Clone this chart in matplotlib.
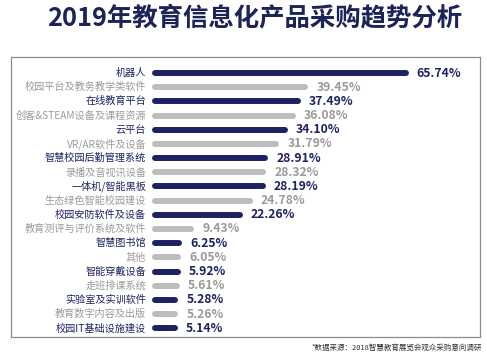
import numpy as np
import matplotlib.pyplot as plt

plt.rcParams['font.family'] = ['Noto Sans CJK SC', 'DejaVu Sans']

categories = ["机器人", "校园平台及教务教学类软件", "在线教育平台", "创客&STEAM设备及课程资源",
              "云平台", "VR/AR软件及设备", "智慧校园后勤管理系统", "录播及音视讯设备",
              "一体机/智能黑板", "生态绿色智能校园建设", "校园安防软件及设备",
              "教育测评与评价系统及软件", "智慧图书馆", "其他", "智能穿戴设备",
              "走班排课系统", "实验室及实训软件", "教育数字内容及出版", "校园IT基础设施建设"]
values = [65.74, 39.45, 37.49, 36.08, 34.10, 31.79, 28.91, 28.32, 28.19, 24.78,
          22.26, 9.43, 6.25, 6.05, 5.92, 5.61, 5.28, 5.26, 5.14]

navy = "#1d2264"
grey = "#bdbdbd"
grey_text = "#9a9a9a"

fig = plt.figure(figsize=(4.87, 3.58), dpi=100)
W, H = 487, 358
ax = fig.add_axes([11 / W, (H - 337) / H, (480 - 11) / W, (337 - 57) / H])

n = len(values)
for i, (cat, v) in enumerate(zip(categories, values)):
    dark = i % 2 == 0
    col = navy if dark else grey
    ax.plot([0, v], [i, i], color=col, lw=4.3, solid_capstyle='round')
    ax.text(-2.4, i, cat, ha='right', va='center', fontsize=7.3,
            color=navy if dark else grey_text)
    ax.text(v + 2.9, i, f"{v:.2f}%", ha='left', va='center',
            fontsize=8.8, fontweight='bold', color=navy if dark else grey_text)

ax.set_xlim(-37.9, 85.3)
ax.set_ylim(n - 1 + 0.62, -1.13)
ax.set_xticks([])
ax.set_yticks([])
for s in ax.spines.values():
    s.set_color("#8c8c8c")
    s.set_linewidth(0.9)

fig.text(255 / W, 1 - 19 / H, "2019年教育信息化产品采购趋势分析", ha='center', va='center',
         fontsize=18.3, fontweight='bold', color="#1b2357")
fig.text(482 / W, 1 - 348 / H, "*数据来源：2018智慧教育展览会观众采购意向调研", ha='right',
         va='center', fontsize=5.4, color="#333333")

fig.savefig("out.png", dpi=100)
